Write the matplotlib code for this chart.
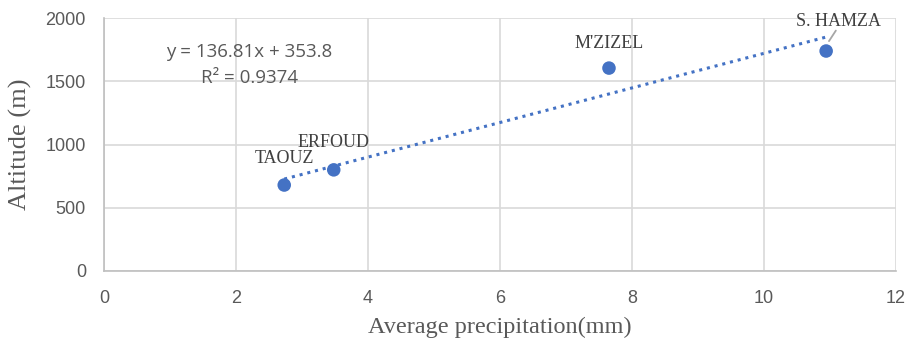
import numpy as np
import matplotlib as mpl
mpl.use("Agg")
import matplotlib.pyplot as plt

# --- data --------------------------------------------------------------------
stations = ["TAOUZ", "ERFOUD", "M'ZIZEL", "S. HAMZA"]
precip = [2.73, 3.48, 7.65, 10.94]
altitude = [680, 800, 1605, 1740]
slope, intercept = 136.81, 353.8
r2 = 0.9374
xticks = [0, 2, 4, 6, 8, 10, 12]
yticks = [0, 500, 1000, 1500, 2000]

BLUE = "#4472C4"
GRID = "#d9d9d9"
TXT = "#595959"

fig = plt.figure(figsize=(9.07, 3.49), dpi=100)
ax = fig.add_axes([0.1147, 0.2235, 0.8733, 0.7245])

# trendline (linear, Excel style)
xs = np.array([min(precip), max(precip)])
ax.plot(xs, slope * xs + intercept, ls=(0, (1, 1.6)), color=BLUE, lw=2.2,
        zorder=3)
ax.scatter(precip, altitude, s=95, color=BLUE, zorder=4, edgecolors="none")

# point labels
lab_off = {"TAOUZ": (0, 27), "ERFOUD": (0, 27), "M'ZIZEL": (0, 25),
           "S. HAMZA": (12, 30)}
for name, x, y in zip(stations, precip, altitude):
    dx, dy = lab_off[name]
    ax.annotate(name, xy=(x, y), xytext=(dx, dy), textcoords="offset pixels",
                ha="center", va="center", fontsize=13,
                family="Liberation Serif", color="#404040", zorder=5)
# leader line for S. HAMZA
ax.annotate("", xy=(precip[3] + 0.02, altitude[3] + 60),
            xytext=(precip[3] + 0.17, altitude[3] + 180),
            arrowprops=dict(arrowstyle="-", color="#a6a6a6", lw=1.3))

# equation
eq = "y = {:.2f}x + {:.1f}".format(slope, intercept)
ax.text(2.2, 1731, eq, ha="center", va="center",
        fontsize=13.5, family="Open Sans", color=TXT)
ax.text(2.2, 1526, "R² = {:.4f}".format(r2), ha="center", va="center",
        fontsize=13.5, family="Open Sans", color=TXT)

ax.set_xlim(0, 12)
ax.set_ylim(0, 2000)
ax.set_xticks(xticks)
ax.set_yticks(yticks)
ax.grid(True, color=GRID, lw=1.2)
ax.set_axisbelow(True)
for s in ["top", "right"]:
    ax.spines[s].set_visible(False)
for s in ["left", "bottom"]:
    ax.spines[s].set_color("#bfbfbf")
    ax.spines[s].set_linewidth(1.2)
ax.tick_params(length=0, labelsize=13, labelcolor=TXT, pad=14)
for lbl in ax.get_xticklabels() + ax.get_yticklabels():
    lbl.set_family("Liberation Sans")
ax.tick_params(axis="y", pad=13)

ax.set_xlabel("Average precipitation(mm)", family="Liberation Serif",
              fontsize=17.5, color=TXT, labelpad=7)
ax.set_ylabel("Altitude (m)", family="Liberation Serif", fontsize=19,
              color=TXT, labelpad=10)

fig.savefig("out.png", dpi=100)
